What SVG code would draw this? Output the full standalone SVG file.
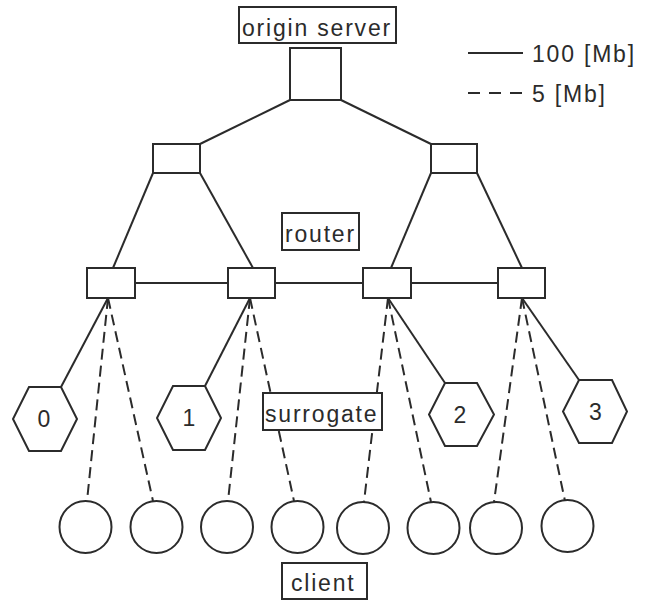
<svg xmlns="http://www.w3.org/2000/svg" width="647" height="601" viewBox="0 0 647 601">
  <style>
    .shape { fill: #ffffff; stroke: #2b2b2b; stroke-width: 2; }
    .link { fill: none; stroke: #2b2b2b; stroke-width: 2; }
    .fast { stroke-dasharray: none; }
    .slow { stroke-dasharray: 11 6; }
    .label { font-family: "Liberation Sans", Arial, sans-serif; font-size: 23px; fill: #2b2b2b; letter-spacing: 1.8px; }
    .num { font-family: "Liberation Sans", Arial, sans-serif; font-size: 23px; fill: #2b2b2b; text-anchor: middle; }
  </style>
  <rect width="647" height="601" fill="#ffffff"/>

  <!-- legend -->
  <g id="legend">
    <line class="link fast" x1="468" y1="53" x2="523" y2="53"/>
    <text class="label" x="532" y="62">100 [Mb]</text>
    <line class="link" stroke-dasharray="12 9" x1="468" y1="93" x2="523" y2="93"/>
    <text class="label" x="532" y="102">5 [Mb]</text>
  </g>

  <!-- connectors -->
  <g id="connectors">
    <!-- backbone, 100 Mb -->
    <line class="link fast" x1="290" y1="100" x2="200" y2="144"/>
    <line class="link fast" x1="341" y1="100" x2="431" y2="144"/>
    <line class="link fast" x1="153" y1="173" x2="113" y2="268"/>
    <line class="link fast" x1="200" y1="173" x2="253" y2="268"/>
    <line class="link fast" x1="431" y1="173" x2="391" y2="268"/>
    <line class="link fast" x1="477" y1="173" x2="522" y2="268"/>
    <line class="link fast" x1="135" y1="283" x2="228" y2="283"/>
    <line class="link fast" x1="275" y1="283" x2="363" y2="283"/>
    <line class="link fast" x1="411" y1="283" x2="498" y2="283"/>
    <!-- edge routers to surrogates, 100 Mb -->
    <line class="link fast" x1="108" y1="298" x2="61" y2="387"/>
    <line class="link fast" x1="250" y1="298" x2="205" y2="386"/>
    <line class="link fast" x1="388" y1="298" x2="445" y2="383"/>
    <line class="link fast" x1="522" y1="298" x2="579" y2="380"/>
    <!-- edge routers to clients, 5 Mb -->
    <line class="link slow" x1="108" y1="298" x2="87" y2="501"/>
    <line class="link slow" x1="108" y1="298" x2="153" y2="501"/>
    <line class="link slow" x1="250" y1="298" x2="228" y2="501"/>
    <line class="link slow" x1="250" y1="298" x2="294" y2="501"/>
    <line class="link slow" x1="388" y1="298" x2="364" y2="502"/>
    <line class="link slow" x1="388" y1="298" x2="431" y2="502"/>
    <line class="link slow" x1="522" y1="298" x2="494" y2="502"/>
    <line class="link slow" x1="522" y1="298" x2="565" y2="501"/>
  </g>

  <!-- origin server -->
  <g id="origin-server">
    <rect class="shape" x="290" y="48" width="51" height="52"/>
  </g>
  <g id="origin-server-label">
    <rect class="shape" x="239" y="7" width="157" height="36"/>
    <text class="label" x="242" y="36">origin server</text>
  </g>

  <!-- core routers -->
  <g id="router-core-left"><rect class="shape" x="153" y="144" width="47" height="29"/></g>
  <g id="router-core-right"><rect class="shape" x="431" y="144" width="46" height="29"/></g>

  <!-- edge routers -->
  <g id="router-edge-0"><rect class="shape" x="87" y="268" width="48" height="30"/></g>
  <g id="router-edge-1"><rect class="shape" x="228" y="268" width="47" height="30"/></g>
  <g id="router-edge-2"><rect class="shape" x="363" y="268" width="48" height="30"/></g>
  <g id="router-edge-3"><rect class="shape" x="498" y="268" width="47" height="30"/></g>

  <g id="router-label">
    <rect class="shape" x="282" y="213" width="77" height="37"/>
    <text class="label" x="285" y="242">router</text>
  </g>

  <!-- surrogates -->
  <g id="surrogate-0">
    <polygon class="shape" points="29,387 61,387 77,419 61,451 29,451 13,419"/>
    <text class="num" x="44" y="427">0</text>
  </g>
  <g id="surrogate-1">
    <polygon class="shape" points="173,386 205,386 221,418 205,450 173,450 157,418"/>
    <text class="num" x="189" y="426">1</text>
  </g>
  <g id="surrogate-2">
    <polygon class="shape" points="445,383 477,383 494,414.5 477,446 445,446 429,414.5"/>
    <text class="num" x="460" y="423">2</text>
  </g>
  <g id="surrogate-3">
    <polygon class="shape" points="579,380 612,380 627,411.5 612,443 579,443 563,411.5"/>
    <text class="num" x="595.5" y="420">3</text>
  </g>

  <g id="surrogate-label">
    <rect class="shape" x="263" y="393" width="119" height="37"/>
    <text class="label" x="265" y="422">surrogate</text>
  </g>

  <!-- clients -->
  <g id="client-0"><circle class="shape" cx="85.5" cy="527" r="26"/></g>
  <g id="client-1"><circle class="shape" cx="156.5" cy="527" r="26"/></g>
  <g id="client-2"><circle class="shape" cx="227" cy="527" r="26"/></g>
  <g id="client-3"><circle class="shape" cx="297.5" cy="527" r="26"/></g>
  <g id="client-4"><circle class="shape" cx="363" cy="528" r="26"/></g>
  <g id="client-5"><circle class="shape" cx="433.5" cy="528" r="26"/></g>
  <g id="client-6"><circle class="shape" cx="496" cy="528" r="26"/></g>
  <g id="client-7"><circle class="shape" cx="567.5" cy="526" r="26"/></g>

  <g id="client-label">
    <rect class="shape" x="282" y="563" width="85" height="36"/>
    <text class="label" x="291" y="591">client</text>
  </g>
</svg>
